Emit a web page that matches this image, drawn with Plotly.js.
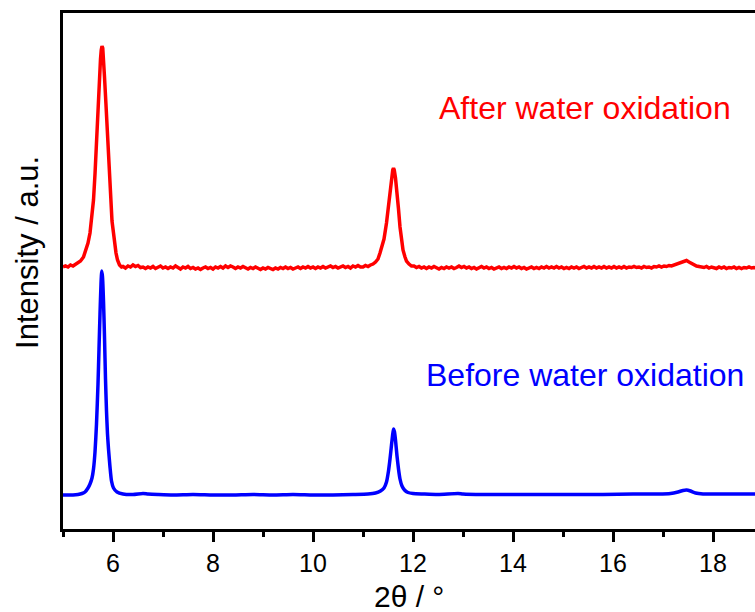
<!DOCTYPE html>
<html>
<head>
<meta charset="utf-8">
<script src="https://cdn.plot.ly/plotly-3.0.1.min.js"></script>
<style>html,body{margin:0;padding:0;background:#fff;}#chart{width:755px;height:612px;}</style>
</head>
<body>
<div id="chart"></div>
<script>
// Intensity readings (arbitrary units; red pattern is offset upward)
const blueX = [
  5.00,5.10,5.20,5.30,5.38,5.44,5.50,5.54,5.58,5.61,
  5.64,5.67,5.70,5.72,5.74,5.76,5.775,5.79,5.81,5.83,
  5.85,5.87,5.89,5.91,5.94,5.97,6.01,6.08,6.20,6.40,
  6.60,6.70,6.90,7.20,7.60,8.00,8.40,8.80,9.20,9.60,
  10.00,10.40,10.80,11.10,11.25,11.35,11.42,11.47,11.51,11.54,
  11.57,11.59,11.61,11.63,11.65,11.68,11.71,11.74,11.78,11.83,
  11.90,12.00,12.20,12.50,12.90,13.00,13.40,14.00,14.60,15.20,
  15.80,16.40,16.90,17.15,17.30,17.40,17.47,17.55,17.65,17.80,
  18.10,18.50,18.90
];
const blueY = [
  34,34,34,34.5,35.5,37,41,45,51,60,
  77,105,145,180,215,245,258,252,228,192,
  150,118,95,80,62,48,41,37,35,34.5,
  35.5,35,34.5,34,34.5,34,34,34.5,34,34.5,
  34,34,34.5,35,36,38,41,47,58,70,
  84,93,100,97,89,73,60,50,43,39,
  36.5,35.5,35,34.5,35.5,35,34.5,34.5,34.5,34.5,
  34.5,35,35,35.5,37,38.5,39,38,36,35,
  35,35,35
];

const redX = [
  5.00,5.05,5.10,5.15,5.20,5.25,5.30,5.35,5.41,5.46,
  5.50,5.54,5.58,5.61,5.64,5.66,5.69,5.71,5.73,5.75,
  5.765,5.78,5.795,5.81,5.83,5.86,5.885,5.91,5.93,5.95,
  5.98,6.01,6.04,6.06,6.09,6.13,6.17,
  6.20,6.25,6.30,6.35,6.40,6.45,6.50,6.55,6.60,6.65,
  6.70,6.75,6.80,6.85,6.90,6.95,7.00,7.05,7.10,7.15,
  7.20,7.25,7.30,7.35,7.40,7.45,7.50,7.55,7.60,7.65,
  7.70,7.75,7.80,7.85,7.90,7.95,8.00,8.05,8.10,8.15,
  8.20,8.25,8.30,8.35,8.40,8.45,8.50,8.55,8.60,8.65,
  8.70,8.75,8.80,8.85,8.90,8.95,9.00,9.05,9.10,9.15,
  9.20,9.25,9.30,9.35,9.40,9.45,9.50,9.55,9.60,9.65,
  9.70,9.75,9.80,9.85,9.90,9.95,10.00,10.05,10.10,10.15,
  10.20,10.25,10.30,10.35,10.40,10.45,10.50,10.55,10.60,10.65,
  10.70,10.75,10.80,10.85,10.90,10.95,
  11.00,11.05,11.10,11.15,11.20,11.25,11.30,11.34,11.38,11.42,
  11.47,11.50,11.54,11.57,11.595,11.61,11.625,11.65,11.68,11.71,
  11.74,11.77,11.80,11.84,11.87,11.92,11.97,
  12.02,12.07,12.12,12.17,12.22,12.27,12.32,12.37,12.42,12.47,
  12.52,12.57,12.62,12.67,12.72,12.77,12.82,12.87,12.92,12.97,
  13.02,13.07,13.12,13.17,13.22,13.27,13.32,13.37,13.42,13.47,
  13.52,13.57,13.62,13.67,13.72,13.77,13.82,13.87,13.92,13.97,
  14.02,14.07,14.12,14.17,14.22,14.27,14.32,14.37,14.42,14.47,
  14.52,14.57,14.62,14.67,14.72,14.77,14.82,14.87,14.92,14.97,
  15.02,15.07,15.12,15.17,15.22,15.27,15.32,15.37,15.42,15.47,
  15.52,15.57,15.62,15.67,15.72,15.77,15.82,15.87,15.92,15.97,
  16.02,16.07,16.12,16.17,16.22,16.27,16.32,16.37,16.42,16.47,
  16.52,16.57,16.62,16.67,16.72,16.77,16.82,16.87,16.92,16.97,
  17.02,17.07,17.12,17.17,
  17.22,17.27,17.32,17.37,17.42,17.47,17.52,17.57,17.62,17.67,
  17.72,17.77,17.82,17.87,17.92,17.97,18.02,18.07,18.12,18.17,
  18.22,18.27,18.32,18.37,18.42,18.47,18.52,18.57,18.62,18.67,
  18.72,18.77,18.82,18.87,18.92
];
const redY = [
  262,263,262,264,263,265,266,268,272,279,
  286,296,312,329,355,379,408,429,452,470,
  479,483,481,472,452,424,398,376,352,329,
  308,296,283,276,269,264,262,
  262.5,261,263,262,264,262.5,263.5,261.5,262,260.5,
  262,261,262.5,260.5,261.5,263,261,262,260.5,262,
  261,263,261.5,260,262,261,262.5,260.5,261.5,260,
  261,259.5,261,262,260.5,261.5,260,262,261,262.5,
  261,263,261.5,263,262,260.5,262,261,262.5,261,
  260,261.5,260.5,262,261,259.5,261,260,261.5,260.5,
  259.5,261,260,261.5,260.5,262,260.5,261.5,260,261,
  262,260.5,262,261,262.5,261,262,260.5,262,261,
  262.5,261,262,263,261.5,262.5,261,262,263,261.5,
  262.5,261,263,262,263.5,262,
  262,263.5,262.5,264,265,267,270,276,282,290,
  306,320,339,352,359,361,359,351,338,320,
  302,289,279,272,268,265,263,
  263,261.5,262.5,261,262,260.5,262,261,262.5,261,
  260,261.5,260.5,262,261,262,260.5,261.5,263,261.5,
  262.5,261,262,260.5,261.5,260,261.5,262.5,261,262,
  260.5,261.5,260,261,262,260.5,261.5,260.5,262,261,
  262.5,261,262,260.5,261.5,260,261,262,260.5,261.5,
  260.5,262,261,262.5,261,262,261,262.5,261,262,
  260.5,261.5,260.5,262,261,262,260.5,261.5,262.5,261,
  262,261,262.5,261,262,261,262.5,261,262,261,
  262.5,261,262,261,262.5,261,262,261.5,262.5,261.5,
  262,261,262.5,261.5,262,261,262.5,262,263,262,
  263,262.5,263.5,263,
  264,264.5,265.5,266.5,268,268.5,267,265.5,264,263,
  262.5,262,261.5,262.5,261,262,261.5,260.5,262,261,
  262,260.5,261.5,261,262,260.5,261.5,260.5,261.5,261,
  262,261,261.5,261,261.5
];

const xTitle = '2θ / °';
const yTitle = 'Intensity / a.u.';
const labelAfter = 'After water oxidation';
const labelBefore = 'Before water oxidation';

const FONT = 'Liberation Sans, Arial, Helvetica, sans-serif';

const traces = [
  {x: blueX, y: blueY, type: 'scatter', mode: 'lines',
   line: {color: 'rgb(0,0,255)', width: 3.5, shape: 'spline', smoothing: 0.6},
   hoverinfo: 'skip', showlegend: false},
  {x: redX, y: redY, type: 'scatter', mode: 'lines',
   line: {color: 'rgb(255,0,0)', width: 3.5},
   hoverinfo: 'skip', showlegend: false}
];

const layout = {
  width: 755, height: 612,
  margin: {l: 63, r: 0, t: 13, b: 83, pad: 0},
  paper_bgcolor: '#ffffff', plot_bgcolor: '#ffffff',
  showlegend: false,
  font: {family: FONT, color: '#000'},
  xaxis: {
    range: [5, 18.84], tickmode: 'linear', tick0: 0, dtick: 2,
    ticks: 'outside', ticklen: 10, tickwidth: 3, tickcolor: '#000',
    showline: true, linewidth: 3, linecolor: '#000', mirror: true,
    showgrid: false, zeroline: false,
    tickfont: {family: FONT, size: 25, color: '#000'},
    minor: {tick0: 0, dtick: 1, ticks: 'outside', ticklen: 5, tickwidth: 3, tickcolor: '#000', showgrid: false}
  },
  yaxis: {
    range: [0, 516], showticklabels: false, ticks: '',
    showline: true, linewidth: 3, linecolor: '#000',
    showgrid: false, zeroline: false
  },
  annotations: [
    {text: xTitle, xref: 'paper', yref: 'paper', x: 0.5, y: -0.13,
     xanchor: 'center', yanchor: 'middle', showarrow: false,
     font: {family: FONT, size: 30, color: '#000'}},
    {text: yTitle, xref: 'paper', yref: 'paper', x: -0.0506, y: 0.537,
     xanchor: 'center', yanchor: 'middle', textangle: -90, showarrow: false,
     font: {family: FONT, size: 31, color: '#000'}},
    {text: labelAfter, xref: 'x', yref: 'y', x: 15.44, y: 421,
     xanchor: 'center', yanchor: 'middle', showarrow: false,
     font: {family: FONT, size: 32, color: 'rgb(255,0,0)'}},
    {text: labelBefore, xref: 'x', yref: 'y', x: 15.44, y: 154,
     xanchor: 'center', yanchor: 'middle', showarrow: false,
     font: {family: FONT, size: 32, color: 'rgb(0,0,255)'}}
  ]
};

Plotly.newPlot('chart', traces, layout, {staticPlot: true, displayModeBar: false});
</script>
</body>
</html>
